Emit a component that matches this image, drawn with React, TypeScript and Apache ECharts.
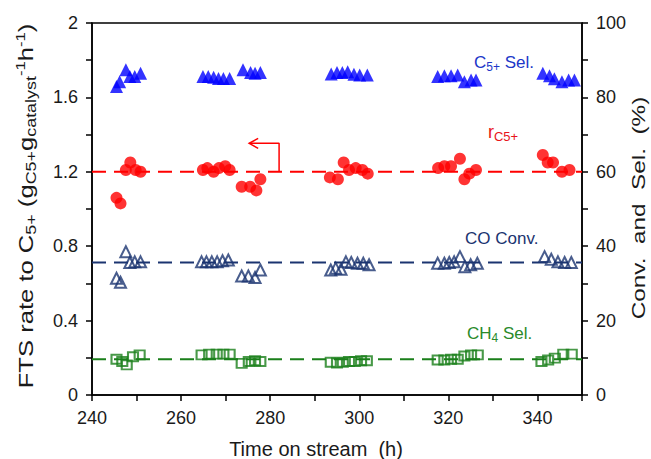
import React, { useEffect, useRef } from 'react';
import * as echarts from 'echarts';

// ---- Data ----
const c5SelTime = [245.5, 246.2, 247.6, 248.5, 249.6, 250.9, 264.9, 266.1, 267.3, 268.4, 269.5, 270.9, 273.9, 275.6, 276.6, 277.8, 293.7, 295.0, 296.2, 297.4, 298.8, 300.1, 301.8, 317.6, 319.1, 320.6, 322.1, 323.6, 325.1, 326.2, 341.2, 342.7, 343.8, 345.5, 347.0, 348.3];
const c5SelPct = [82.9, 84.2, 87.4, 85.6, 85.6, 86.5, 85.6, 85.6, 85.4, 85.1, 85.1, 85.1, 87.4, 86.7, 86.5, 86.7, 86.3, 86.7, 86.7, 86.9, 86.2, 86.0, 86.0, 85.6, 85.8, 85.8, 86.0, 84.2, 84.7, 84.7, 86.5, 85.8, 85.0, 84.2, 84.7, 84.7];

const rC5Time = [245.5, 246.4, 247.6, 248.6, 249.8, 250.9, 264.9, 265.9, 267.3, 268.5, 269.9, 270.9, 273.6, 275.5, 276.9, 277.8, 293.4, 295.2, 296.5, 297.7, 299.2, 300.7, 301.9, 317.7, 319.1, 320.6, 322.6, 323.6, 324.7, 326.2, 341.2, 342.3, 343.5, 345.5, 347.2];
const rC5Rate = [1.06, 1.03, 1.21, 1.25, 1.21, 1.2, 1.21, 1.22, 1.2, 1.22, 1.23, 1.21, 1.12, 1.12, 1.1, 1.16, 1.17, 1.16, 1.25, 1.21, 1.22, 1.21, 1.19, 1.22, 1.23, 1.23, 1.27, 1.16, 1.19, 1.21, 1.29, 1.25, 1.25, 1.2, 1.21];

const coTime = [245.5, 246.4, 247.6, 248.5, 249.6, 250.9, 264.6, 265.7, 266.9, 268.1, 269.3, 270.6, 273.6, 275.1, 276.6, 277.8, 293.6, 294.7, 295.9, 297.0, 298.2, 299.6, 300.9, 302.2, 317.6, 319.1, 320.2, 321.3, 322.6, 323.7, 325.0, 326.5, 341.6, 343.1, 344.6, 346.1, 347.6];
const coConvPct = [31.4, 30.3, 38.5, 35.6, 35.8, 35.8, 35.8, 35.8, 35.8, 35.8, 36.1, 36.3, 32.0, 32.0, 31.6, 33.6, 33.6, 34.1, 33.8, 35.8, 35.6, 35.4, 35.4, 35.0, 35.4, 35.4, 35.6, 35.8, 37.2, 34.5, 35.0, 35.4, 37.2, 36.5, 35.8, 35.6, 35.6];

const ch4Time = [245.5, 246.8, 247.8, 249.2, 250.7, 264.6, 266.3, 268.0, 269.5, 270.9, 273.6, 275.2, 276.6, 277.8, 293.6, 295.0, 296.3, 297.7, 299.0, 300.4, 301.7, 317.6, 319.1, 320.6, 322.1, 323.6, 325.1, 326.6, 340.9, 342.4, 343.9, 345.8, 347.7];
const ch4SelPct = [9.6, 9.0, 8.1, 10.3, 10.8, 10.8, 11.0, 11.0, 11.0, 11.0, 8.5, 9.0, 9.2, 9.0, 8.8, 8.6, 8.8, 9.0, 9.0, 9.2, 9.2, 9.4, 9.4, 9.6, 9.6, 10.5, 10.8, 10.8, 9.0, 9.4, 9.9, 11.0, 11.0];

// average (dashed) levels
const avgRange = [240, 350];
const rC5Avg = 1.2;
const coConvAvg = 35.6;
const ch4SelAvg = 9.6;

// arrow pointing to the left axis (time, rate)
const arrowTime = [282.0, 282.0, 275.4];
const arrowRate = [1.2, 1.353, 1.353];

// axes
const xMin = 240, xMax = 350, xStep = 10;
const yLeftMin = 0, yLeftMax = 2, yLeftStep = 0.2;
const yRightMin = 0, yRightMax = 100, yRightStep = 10;

const FONT = "'Liberation Sans', Arial, sans-serif";
const BLUE = '#0000ff';
const RED = '#ff0000';
const NAVY = '#1b3470';
const GREEN = '#1a7f1a';
const TXT = '#1a1a1a';

const zip = (a: number[], b: number[]) => a.map((v, i) => [v, b[i]]);

export default function App() {
  const ref = useRef<HTMLDivElement>(null);
  useEffect(() => {
    const chart = echarts.init(ref.current!, null, { renderer: 'svg' });
    const axisLine = { show: true, lineStyle: { color: '#000', width: 1.5 } };
    const axisTick = { show: true, inside: false, length: 6, lineStyle: { color: '#000', width: 1.5 } };
    const labelBase = { color: TXT, fontSize: 18, fontFamily: FONT };
    const sub = (fs: number, color: string) => ({ fontSize: fs, fill: color, color, fontFamily: FONT, verticalAlign: 'bottom', lineHeight: fs });
    const sup = (fs: number, color: string) => ({ fontSize: fs, fill: color, color, fontFamily: FONT, verticalAlign: 'top', lineHeight: fs });
    const main = (fs: number, color: string, lh: number) => ({ fontSize: fs, fill: color, color, fontFamily: FONT, lineHeight: lh, verticalAlign: 'middle' });

    const textEl = (x: number, y: number, text: string, rich: any, align: string, rotation = 0, stretch = 1) => ({
      type: 'text',
      x,
      y,
      rotation,
      scaleX: stretch,
      silent: true,
      style: {
        text,
        rich,
        align,
        textAlign: align,
        verticalAlign: 'middle',
        textVerticalAlign: 'middle',
        fontFamily: FONT,
      },
    });

    const option: any = {
      animation: false,
      backgroundColor: '#fff',
      grid: { left: 92, right: 69, top: 23, bottom: 64, show: true, borderColor: '#000', borderWidth: 1.5, backgroundColor: 'transparent' },
      xAxis: {
        type: 'value',
        min: xMin,
        max: xMax,
        interval: xStep,
        axisLine,
        axisTick,
        splitLine: { show: false },
        axisLabel: {
          ...labelBase,
          margin: 14,
          formatter: (v: number) => (Math.round(v) % 20 === 0 && v < xMax ? String(Math.round(v)) : ''),
        },
      },
      yAxis: [
        {
          type: 'value',
          min: yLeftMin,
          max: yLeftMax,
          interval: yLeftStep,
          axisLine,
          axisTick,
          splitLine: { show: false },
          axisLabel: {
            ...labelBase,
            margin: 14,
            formatter: (v: number) => {
              const k = Math.round(v * 10);
              if (k % 4 !== 0) return '';
              if (k === 0) return '0';
              if (k === 20) return '2';
              return (k / 10).toFixed(1);
            },
          },
        },
        {
          type: 'value',
          position: 'right',
          min: yRightMin,
          max: yRightMax,
          interval: yRightStep,
          axisLine,
          axisTick,
          splitLine: { show: false },
          axisLabel: {
            ...labelBase,
            margin: 14,
            formatter: (v: number) => (Math.round(v) % 20 === 0 ? String(Math.round(v)) : ''),
          },
        },
      ],
      series: [
        {
          type: 'line', yAxisIndex: 0, data: avgRange.map((t) => [t, rC5Avg]), symbol: 'none',
          lineStyle: { color: RED, width: 2, type: [14, 8] }, silent: true, z: 1,
        },
        {
          type: 'line', yAxisIndex: 1, data: avgRange.map((t) => [t, coConvAvg]), symbol: 'none',
          lineStyle: { color: NAVY, width: 2, type: [14, 8] }, silent: true, z: 1,
        },
        {
          type: 'line', yAxisIndex: 1, data: avgRange.map((t) => [t, ch4SelAvg]), symbol: 'none',
          lineStyle: { color: GREEN, width: 2, type: [14, 8] }, silent: true, z: 1,
        },
        {
          type: 'line', yAxisIndex: 0, data: zip(arrowTime, arrowRate),
          showSymbol: true,
          symbol: (_v: any, p: any) => (p.dataIndex === arrowTime.length - 1 ? 'path://M9,0 L0,5 L9,10' : 'none'),
          symbolSize: [9, 10],
          symbolOffset: [4, 0],
          itemStyle: { color: 'rgba(0,0,0,0)', borderColor: RED, borderWidth: 1.5 },
          lineStyle: { color: RED, width: 1.5 }, silent: true, z: 2,
        },
        {
          type: 'scatter', yAxisIndex: 1, data: zip(c5SelTime, c5SelPct), symbol: 'triangle', symbolSize: 13,
          itemStyle: { color: BLUE }, z: 3,
        },
        {
          type: 'scatter', yAxisIndex: 0, data: zip(rC5Time, rC5Rate), symbol: 'circle', symbolSize: 12,
          itemStyle: { color: RED }, z: 3,
        },
        {
          type: 'scatter', yAxisIndex: 1, data: zip(coTime, coConvPct), symbol: 'triangle', symbolSize: 11,
          itemStyle: { color: 'rgba(0,0,0,0)', borderColor: NAVY, borderWidth: 2 }, z: 3,
        },
        {
          type: 'scatter', yAxisIndex: 1, data: zip(ch4Time, ch4SelPct), symbol: 'rect', symbolSize: [10, 9],
          itemStyle: { color: 'rgba(0,0,0,0)', borderColor: GREEN, borderWidth: 2 }, z: 3,
        },
      ],
      graphic: [
        textEl(474, 62, '{m|C}{s|5+}{m| Sel.}', { m: main(17, '#2036c8', 22), s: sub(12, '#2036c8') }, 'left'),
        textEl(488, 132, '{m|r}{s|C5+}', { m: main(18, '#e8141b', 22), s: sub(13, '#e8141b') }, 'left'),
        textEl(465, 238, '{m|CO Conv.}', { m: main(17, NAVY, 22) }, 'left'),
        textEl(467, 333, '{m|CH}{s|4}{m| Sel.}', { m: main(17, '#2a8a2a', 22), s: sub(12, '#2a8a2a') }, 'left'),
        textEl(316, 449, '{m|Time on stream  (h)}', { m: main(20, TXT, 22) }, 'center'),
        textEl(638, 208, '{m|Conv.  and  Sel.  (%)}', { m: main(19, TXT, 22) }, 'center', Math.PI / 2, 1.28),
        textEl(
          26,
          206,
          '{m|FTS rate to C}{s|5+}{m| (g}{s|C5+}{m|g}{s|catalyst}{p|-1}{m|h}{p|-1}{m|)}',
          { m: main(20, TXT, 24), s: sub(14, TXT), p: sup(13, TXT) },
          'center',
          Math.PI / 2,
          1.28
        ),
      ],
    };
    chart.setOption(option);
    return () => chart.dispose();
  }, []);
  return <div ref={ref} style={{ position: 'fixed', left: 0, top: 0, width: 651, height: 459 }} />;
}
